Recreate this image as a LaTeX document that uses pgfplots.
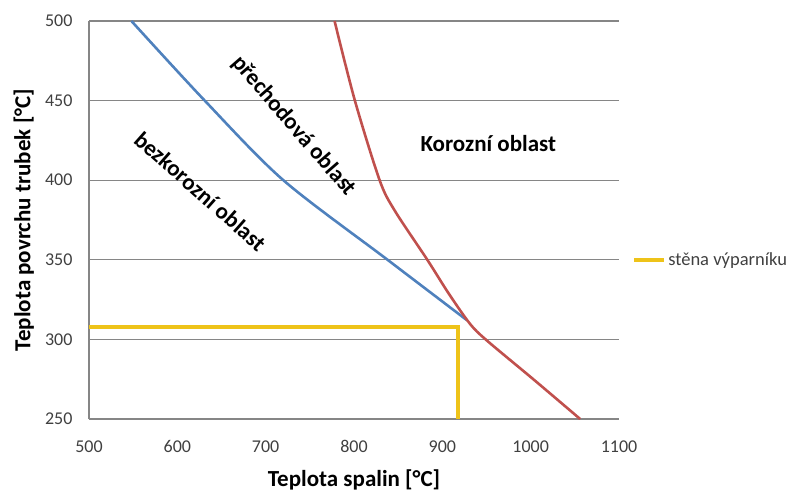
\documentclass[border=0pt]{standalone}
\usepackage{pgfplots}
\pgfplotsset{compat=1.18}
\usepackage{fontspec}
\setmainfont{Carlito}
\definecolor{cblue}{RGB}{79,129,189}
\definecolor{cred}{RGB}{192,80,77}
\definecolor{cyel}{RGB}{238,195,25}
\definecolor{cgrid}{RGB}{134,134,134}
\definecolor{ctick}{RGB}{64,64,64}
\begin{document}
\begin{tikzpicture}
\path[use as bounding box] (-89pt,-73pt) rectangle (710pt,419pt);
\begin{axis}[
    scale only axis,
    width=530pt, height=398pt,
    xmin=500, xmax=1100, ymin=250, ymax=500,
    xtick={500,600,...,1100}, ytick={250,300,...,500},
    ymajorgrids, grid style={cgrid, line width=1.2pt},
    axis x line*=bottom, axis y line*=left,
    axis line style={cgrid, line width=1.2pt, -},
    major tick length=0pt,
    tick label style={font=\fontsize{18}{21}\selectfont, text=ctick},
    /pgf/number format/assume math mode=true,
    /pgf/number format/1000 sep={},
    xticklabel style={yshift=-18pt},
    yticklabel style={xshift=-13pt},
    xlabel={Teplota spalin [°C]},
    ylabel={Teplota povrchu trubek [°C]},
    label style={font=\bfseries\fontsize{23}{26}\selectfont},
    xlabel style={at={(axis description cs:0.5,-0.153)}, anchor=center},
    ylabel style={at={(axis description cs:-0.123,0.5)}, anchor=center},
    legend style={draw=none, fill=none, at={(1.019,0.3995)}, anchor=west,
        font=\fontsize{18.5}{21}\selectfont, text=ctick},
    legend image code/.code={\draw[#1, line width=4pt] (0pt,0pt) -- (30pt,0pt);},
]
    % bezkorozni hranice
    \addplot[cblue, line width=2.6pt, smooth, forget plot] coordinates {
        (548,500) (631,450) (720,400) (838,350) (928,312)
    };
    % korozni hranice
    \addplot[cred, line width=2.6pt, smooth, forget plot] coordinates {
        (778,500) (801,450) (829,400) (846,381) (883,350) (907,329)
        (931,310) (950,299.5) (1004,274.5) (1056,250)
    };
    % stena vyparniku
    \addplot[cyel, line width=4pt] coordinates {
        (500,308) (918,308) (918,250)
    };
    \addlegendentry{stěna výparníku}

    \node[rotate=-49, font=\bfseries\fontsize{23}{26}\selectfont]
        at (axis cs:732,434) {přechodová oblast};
    \node[rotate=-41.5, font=\bfseries\fontsize{23}{26}\selectfont]
        at (axis cs:626,393) {bezkorozní oblast};
    \node[font=\bfseries\fontsize{23}{26}\selectfont]
        at (axis cs:952,423) {Korozní oblast};
\end{axis}
\end{tikzpicture}
\end{document}
